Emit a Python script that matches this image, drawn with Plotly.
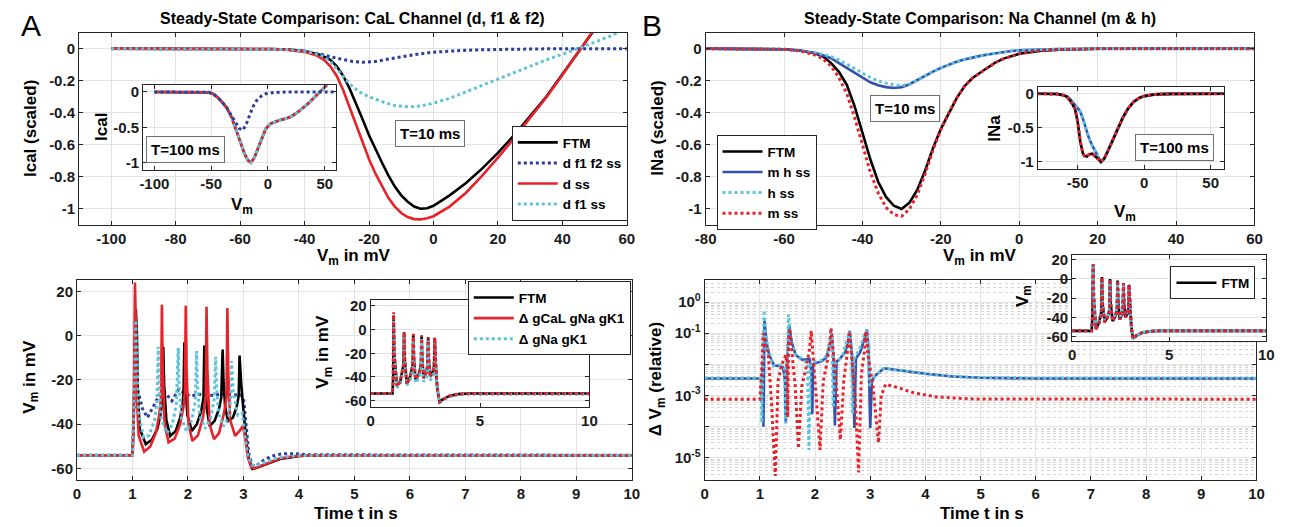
import plotly.graph_objects as go

# ---------------- data ----------------
# Panel A top: CaL channel, T = 10 ms
cal_v_ftm = [-100, -60, -50, -45, -40, -35, -32, -30, -28, -26, -24, -22, -20, -18, -16, -14, -12, -10, -8, -6, -4, -2, 0, 5, 10, 15, 20, 25, 30, 35, 40, 45, 50]
cal_i_ftm = [0, 0, -0.002, -0.006, -0.015, -0.04, -0.07, -0.11, -0.17, -0.25, -0.34, -0.44, -0.54, -0.63, -0.71, -0.79, -0.86, -0.915, -0.955, -0.985, -0.998, -0.995, -0.98, -0.915, -0.84, -0.75, -0.65, -0.54, -0.42, -0.30, -0.16, -0.02, 0.12]
cal_v_d = [-100, -60, -50, -45, -40, -36, -34, -32, -30, -28, -26, -24, -22, -20, -18, -16, -14, -12, -10, -8, -6, -4, -2, 0, 5, 10, 15, 20, 25, 30, 35, 40, 45, 50]
cal_i_d = [0, 0, -0.003, -0.008, -0.02, -0.045, -0.07, -0.11, -0.17, -0.26, -0.37, -0.48, -0.59, -0.69, -0.78, -0.86, -0.93, -0.985, -1.025, -1.05, -1.063, -1.065, -1.058, -1.045, -0.985, -0.9, -0.795, -0.68, -0.56, -0.43, -0.305, -0.165, -0.02, 0.125]
cal_v_dff = [-100, -50, -45, -40, -35, -30, -25, -22, -18, -14, -10, -5, 0, 10, 20, 30, 40, 60]
cal_i_dff = [0, -0.002, -0.006, -0.015, -0.035, -0.06, -0.08, -0.085, -0.08, -0.065, -0.05, -0.035, -0.022, -0.01, -0.005, -0.002, 0, 0]
cal_v_df = [-100, -50, -45, -40, -35, -32, -29, -26, -23, -20, -16, -12, -8, -4, 0, 5, 10, 15, 20, 25, 30, 35, 40, 45, 50, 55, 57]
cal_i_df = [0, -0.002, -0.006, -0.015, -0.04, -0.08, -0.15, -0.22, -0.27, -0.30, -0.33, -0.355, -0.363, -0.358, -0.34, -0.31, -0.27, -0.23, -0.19, -0.15, -0.11, -0.07, -0.035, 0.0, 0.04, 0.08, 0.1]

# Panel A inset: CaL channel, T = 100 ms
calin_v = [-100, -60, -52, -48, -44, -40, -36, -32, -28, -24, -21, -18, -15, -12, -8, -5, -2, 2, 6, 10, 15, 20, 25, 30, 35, 40, 45, 50, 52]
calin_i_d = [0, 0, -0.005, -0.03, -0.08, -0.15, -0.23, -0.36, -0.54, -0.74, -0.86, -0.96, -1.0, -0.93, -0.76, -0.62, -0.52, -0.45, -0.42, -0.40, -0.38, -0.35, -0.3, -0.24, -0.17, -0.09, -0.01, 0.08, 0.1]
calin_v2 = [-100, -60, -52, -48, -44, -40, -36, -32, -28, -25, -22, -19, -16, -13, -10, -6, -2, 5, 15, 30, 60]
calin_i_dff = [0, 0, -0.005, -0.03, -0.08, -0.15, -0.23, -0.34, -0.45, -0.52, -0.54, -0.45, -0.32, -0.2, -0.12, -0.06, -0.025, -0.008, -0.002, 0, 0]

# Panel B top: Na channel, T = 10 ms
na_v = [-80, -65, -60, -56, -52, -50, -48, -46, -44, -42, -40, -38, -36, -34, -32, -30, -28, -26, -24, -22, -20, -18, -16, -14, -12, -10, -8, -6, -4, -2, 0, 5, 10, 20, 40, 60]
na_i_ftm = [0, -0.001, -0.004, -0.012, -0.03, -0.05, -0.09, -0.145, -0.225, -0.36, -0.52, -0.69, -0.83, -0.925, -0.98, -1.0, -0.96, -0.88, -0.76, -0.62, -0.50, -0.40, -0.31, -0.235, -0.185, -0.15, -0.115, -0.085, -0.062, -0.045, -0.032, -0.014, -0.006, -0.001, 0, 0]
na_i_m = [0, -0.001, -0.004, -0.014, -0.04, -0.065, -0.11, -0.18, -0.28, -0.43, -0.6, -0.77, -0.9, -0.99, -1.035, -1.045, -1.0, -0.91, -0.78, -0.63, -0.505, -0.40, -0.31, -0.235, -0.185, -0.15, -0.115, -0.085, -0.062, -0.045, -0.032, -0.014, -0.006, -0.001, 0, 0]
na_i_mh = [0, -0.001, -0.004, -0.012, -0.028, -0.042, -0.06, -0.09, -0.12, -0.154, -0.185, -0.21, -0.228, -0.24, -0.245, -0.24, -0.222, -0.195, -0.168, -0.143, -0.12, -0.1, -0.082, -0.067, -0.055, -0.045, -0.036, -0.028, -0.021, -0.015, -0.011, -0.005, -0.003, -0.001, 0, 0]
na_i_h = [0, -0.001, -0.004, -0.011, -0.024, -0.035, -0.05, -0.07, -0.097, -0.125, -0.155, -0.18, -0.2, -0.215, -0.225, -0.23, -0.222, -0.195, -0.168, -0.143, -0.12, -0.1, -0.082, -0.067, -0.055, -0.045, -0.036, -0.028, -0.021, -0.015, -0.011, -0.005, -0.003, -0.001, 0, 0]

# Panel B inset: Na channel, T = 100 ms
nain_v = [-80, -65, -60, -58, -55, -52, -50, -48, -46, -45, -43, -41.5, -39, -37, -35, -32.5, -30, -27.5, -24, -20, -16, -12, -8, -4, 0, 8, 20, 60]
nain_i_ftm = [0, -0.005, -0.025, -0.045, -0.12, -0.22, -0.41, -0.7, -0.88, -0.91, -0.92, -0.89, -0.88, -0.91, -0.95, -1.0, -0.95, -0.85, -0.7, -0.52, -0.35, -0.216, -0.12, -0.065, -0.035, -0.01, -0.002, 0]
nain_i_mh = [0, -0.005, -0.025, -0.04, -0.09, -0.17, -0.21, -0.26, -0.37, -0.43, -0.56, -0.65, -0.76, -0.84, -0.91, -1.0, -0.95, -0.85, -0.7, -0.52, -0.35, -0.216, -0.12, -0.065, -0.035, -0.01, -0.002, 0]

# Panel A bottom: membrane potential traces
bl_t_ftm = [0, 1.0, 1.02, 1.06, 1.08, 1.095, 1.13, 1.24, 1.35, 1.45, 1.51, 1.54, 1.555, 1.57, 1.61, 1.68, 1.78, 1.86, 1.9, 1.92, 1.935, 1.95, 1.99, 2.07, 2.16, 2.24, 2.28, 2.295, 2.31, 2.34, 2.39, 2.48, 2.56, 2.6, 2.625, 2.64, 2.67, 2.72, 2.81, 2.88, 2.915, 2.93, 2.96, 3.0, 3.04, 3.09, 3.16, 3.25, 3.4, 3.66, 4.05, 4.5, 10]
bl_v_ftm = [-54, -54, -40, 12, 0, -25, -42, -49, -47, -42, -35, -28, -5, -22, -38, -45.3, -43, -37, -32, -26, -3, -20, -36, -43, -40, -34, -28, -4.5, -20, -33, -40.8, -38.5, -33, -28, -6.3, -20, -32, -38.5, -37, -32, -27, -9, -22, -33, -45, -55, -60.2, -59.5, -58, -55.7, -54.2, -54, -54]
bl_t_gcal = [0, 1.0, 1.02, 1.045, 1.06, 1.075, 1.11, 1.21, 1.32, 1.42, 1.48, 1.515, 1.53, 1.545, 1.58, 1.65, 1.76, 1.86, 1.92, 1.945, 1.96, 1.975, 2.01, 2.08, 2.18, 2.27, 2.32, 2.335, 2.35, 2.39, 2.47, 2.56, 2.65, 2.695, 2.71, 2.725, 2.76, 2.85, 2.93, 2.99, 3.03, 3.08, 3.14, 3.2, 3.3, 3.45, 3.65, 3.9, 4.3, 10]
bl_v_gcal = [-54, -54, -40, 24, 5, -25, -45, -52.4, -50, -44, -36, -28, 14, -15, -40, -48.2, -46.5, -40, -32, -25, 13.5, -15, -40, -47.5, -45, -37, -28, 13, -15, -40, -46.7, -44, -35, -28, 12.5, -15, -38, -45.3, -43, -40.8, -46, -55, -59.5, -60, -59, -57.5, -55.5, -54.5, -54, -54]
bl_t_gna = [0, 1.0, 1.02, 1.06, 1.08, 1.11, 1.2, 1.3, 1.4, 1.44, 1.465, 1.48, 1.52, 1.62, 1.72, 1.79, 1.825, 1.84, 1.88, 1.97, 2.07, 2.13, 2.155, 2.17, 2.21, 2.31, 2.41, 2.47, 2.5, 2.515, 2.55, 2.64, 2.74, 2.77, 2.785, 2.82, 2.9, 2.98, 3.03, 3.08, 3.15, 3.25, 3.4, 3.6, 3.9, 4.3, 10]
bl_v_gna = [-54, -54, -40, 7, -10, -35, -46, -45, -38, -30, -5, -22, -38, -44, -40, -31, -5.5, -22, -37, -43, -38, -30, -7, -22, -36, -42, -37, -29, -9.6, -23, -35, -41, -36, -28, -11.5, -26, -36, -35, -45, -54, -58.5, -58.5, -57, -55.3, -54.3, -54, -54]
bl_t_alt = [0, 1.0, 1.02, 1.06, 1.1, 1.18, 1.27, 1.38, 1.5, 1.58, 1.71, 1.83, 1.95, 2.04, 2.2, 2.4, 2.6, 2.8, 2.95, 3.0, 3.05, 3.1, 3.16, 3.22, 3.35, 3.5, 3.7, 3.9, 4.2, 10]
bl_v_alt = [-54, -54, -35, -23.5, -25, -33, -37, -32, -26, -25.5, -29.5, -24.3, -26, -27.3, -26.5, -27, -26.5, -26.5, -26.8, -28, -42, -54, -58.5, -59, -56.5, -54.5, -53.3, -53.3, -53.8, -54]

# Panel A bottom inset
blin_t = [0, 1.0, 1.03, 1.05, 1.08, 1.2, 1.35, 1.5, 1.53, 1.56, 1.65, 1.8, 1.92, 1.95, 1.98, 2.05, 2.2, 2.3, 2.33, 2.36, 2.42, 2.55, 2.6, 2.63, 2.66, 2.72, 2.85, 2.9, 2.93, 2.96, 3.0, 3.05, 3.15, 3.3, 3.6, 4.0, 4.5, 10]
blin_ftm = [-54, -54, -40, 12, -20, -47, -44, -30, -2.2, -25, -45.8, -40, -30, -3.7, -25, -42, -38, -30, -5, -25, -41, -36, -30, -6.5, -25, -40, -35, -30, -7, -25, -38, -50, -61, -59, -56, -54.5, -54, -54]
blin_gcal = [-54, -54, -40, 14.6, -20, -48, -44, -30, -2, -25, -46, -40, -30, -3.5, -25, -42, -38, -30, -5, -25, -41, -36, -30, -6.5, -25, -40, -35, -30, -7, -25, -38, -50, -61, -59, -56, -54.5, -54, -54]
blin_gna = [-54, -54, -40, 8, -22, -49, -46, -34, -6, -28, -47, -43, -34, -7, -28, -45, -41, -34, -8, -28, -44, -40, -34, -9, -28, -43, -39, -34, -10, -28, -40, -51, -62, -59.5, -56.5, -55, -54.5, -54.5]

# Panel B bottom: relative difference of V_m (log scale)
br_t_mh = [0, 1.0, 1.04, 1.055, 1.065, 1.075, 1.085, 1.12, 1.17, 1.26, 1.35, 1.42, 1.455, 1.47, 1.49, 1.53, 1.58, 1.65, 1.77, 1.9, 1.935, 1.95, 1.965, 2.0, 2.1, 2.2, 2.28, 2.3, 2.33, 2.36, 2.39, 2.45, 2.55, 2.61, 2.63, 2.67, 2.715, 2.74, 2.82, 2.9, 2.94, 2.97, 3.0, 3.03, 3.1, 3.25, 3.5, 4.0, 4.5, 5.0, 6.0, 10]
br_d_mh = [3.5e-3, 3.5e-3, 3.5e-3, 1.2e-2, 1e-4, 5e-3, 0.25, 0.05, 0.02, 9e-3, 9e-3, 8e-3, 3e-3, 1.3e-4, 8e-3, 0.19, 0.05, 0.02, 1.4e-2, 1.5e-2, 6e-3, 2.5e-4, 0.01, 1.1e-2, 1.2e-2, 1.6e-2, 0.05, 0.1, 0.02, 1.1e-4, 0.012, 0.015, 0.025, 0.07, 0.12, 0.02, 9e-5, 0.015, 0.025, 0.07, 0.13, 0.03, 9e-5, 3e-3, 4.5e-3, 7.5e-3, 6.5e-3, 5e-3, 4.1e-3, 3.7e-3, 3.5e-3, 3.5e-3]
br_t_h = [0, 1.0, 1.025, 1.035, 1.05, 1.075, 1.1, 1.15, 1.25, 1.38, 1.45, 1.47, 1.49, 1.52, 1.56, 1.65, 1.8, 1.86, 1.89, 1.92, 1.98, 2.1, 2.22, 2.29, 2.31, 2.33, 2.36, 2.5, 2.6, 2.63, 2.66, 2.68, 2.71, 2.8, 2.9, 2.94, 2.97, 2.99, 3.03, 3.1, 3.25, 3.5, 4.0, 4.5, 5.0, 10]
br_d_h = [3.6e-3, 3.6e-3, 3.6e-3, 1.3e-4, 5e-3, 0.55, 0.1, 0.03, 9e-3, 9.5e-3, 7e-3, 1.3e-4, 6e-3, 0.4, 0.06, 0.02, 1.4e-2, 1e-2, 1.8e-5, 1e-2, 1.2e-2, 1.3e-2, 2e-2, 0.1, 0.04, 4e-4, 0.01, 0.02, 0.08, 0.11, 0.03, 2.5e-4, 1.5e-2, 0.03, 0.09, 0.12, 0.03, 2e-3, 3e-3, 4.5e-3, 7.5e-3, 6.5e-3, 5e-3, 4.1e-3, 3.7e-3, 3.6e-3]
br_t_m = [0, 1.0, 1.03, 1.06, 1.1, 1.15, 1.21, 1.28, 1.33, 1.4, 1.47, 1.49, 1.505, 1.52, 1.54, 1.58, 1.64, 1.7, 1.76, 1.85, 1.9, 1.93, 1.96, 2.0, 2.09, 2.15, 2.22, 2.27, 2.29, 2.33, 2.38, 2.46, 2.52, 2.58, 2.62, 2.66, 2.72, 2.79, 2.84, 2.9, 2.92, 2.96, 3.05, 3.15, 3.2, 3.28, 3.5, 3.8, 4.2, 4.8, 10]
br_d_m = [7.6e-4, 7.6e-4, 5e-3, 0.1, 0.04, 0.025, 6e-4, 2.6e-6, 3e-3, 0.01, 0.02, 0.01, 2e-4, 0.05, 0.14, 0.03, 2e-3, 2e-5, 2e-3, 0.01, 0.03, 0.12, 0.03, 3e-3, 1.8e-5, 3e-3, 0.012, 0.05, 0.15, 0.03, 3e-3, 3.8e-5, 3e-3, 0.02, 0.115, 0.02, 1.5e-3, 3.4e-6, 5e-3, 0.03, 0.115, 0.02, 2e-3, 3e-5, 1e-3, 2.3e-3, 1.8e-3, 1.2e-3, 9e-4, 7.8e-4, 7.6e-4]

# Panel B bottom inset
brin_t = [0, 1.0, 1.04, 1.08, 1.11, 1.22, 1.38, 1.5, 1.53, 1.56, 1.67, 1.82, 1.92, 1.95, 1.98, 2.08, 2.22, 2.31, 2.34, 2.37, 2.45, 2.57, 2.61, 2.64, 2.67, 2.74, 2.86, 2.9, 2.93, 2.96, 3.0, 3.05, 3.12, 3.3, 3.6, 4.0, 4.5, 10]
brin_ftm = [-54, -54, -40, 14.7, -20, -52, -46, -34, 1.8, -25, -45, -40, -33, -0.3, -25, -44, -39, -32, -1.8, -25, -42, -37, -31, -4.5, -25, -40, -36, -30, -6.3, -25, -35, -50, -62, -59, -56, -54.5, -54, -54]
brin_h = [-54, -54, -40, 13, -22, -50, -44, -32, 0, -26, -43, -38, -31, -2, -26, -42, -37, -30, -3, -26, -40, -35, -29, -6, -26, -38, -34, -29, -8, -26, -34, -50, -61, -58.5, -55.5, -54.3, -54, -54]

# tick labels
cal_xticks = [-100, -80, -60, -40, -20, 0, 20, 40, 60]
na_xticks = [-80, -60, -40, -20, 0, 20, 40, 60]
i_yticks = [0, -0.2, -0.4, -0.6, -0.8, -1]
in_xticks_cal = [-100, -50, 0, 50]
in_xticks_na = [-50, 0, 50]
in_yticks = [0, -0.5, -1]
t_ticks = [0, 1, 2, 3, 4, 5, 6, 7, 8, 9, 10]
vm_ticks = [20, 0, -20, -40, -60]
in_t_ticks = [0, 5, 10]
log_ticks = [1e-6, 1e-5, 1e-4, 1e-3, 1e-2, 1e-1, 1]
log_labels = ["", "10<sup>-5</sup>", "", "10<sup>-3</sup>", "", "10<sup>-1</sup>", "10<sup>0</sup>"]

# ---------------- styling ----------------
FONT = "Liberation Sans, Arial, Helvetica, sans-serif"
BLACK = "#000000"
RED = "#e8222a"
NAVY = "#2b3c9c"
BLUE = "#3350ad"
CYAN = "#5cc3db"
W = 1296.0
H = 527.0
TICK = 15


def px(x):
    return x / W


def py(y):
    return 1 - y / H


def lab(v):
    return "%g" % v


def axis(dom, rng, tv, tt=None, anchor=None, log=False, grid=True):
    d = dict(domain=dom, range=rng, tickmode="array", tickvals=tv,
             ticktext=tt if tt is not None else [lab(v) for v in tv],
             showline=True, linecolor="#262626", linewidth=1, mirror="ticks",
             ticks="inside", ticklen=4, tickwidth=1, tickcolor="#262626",
             showgrid=grid, gridcolor="#e3e3e3", gridwidth=1, zeroline=False,
             tickfont=dict(family=FONT, size=TICK, color="#1a1a1a", weight="bold"),
             anchor=anchor, layer="above traces", fixedrange=True)
    if log:
        d["type"] = "log"
    return d


fig = go.Figure()


def line(x, y, xa, ya, color, dot=False, width=2.6, name=None, legend=None):
    fig.add_trace(go.Scatter(
        x=x, y=y, xaxis=xa, yaxis=ya, mode="lines", name=name,
        showlegend=legend is not None, legend=legend if legend else "legend",
        line=dict(color=color, width=(3 if dot else width), dash=("dot" if dot else "solid")),
        hoverinfo="skip"))


# A top
line(cal_v_ftm, cal_i_ftm, "x", "y", BLACK, name="FTM", legend="legend")
line(cal_v_dff, cal_i_dff, "x", "y", NAVY, dot=True, name="d f1 f2 ss", legend="legend")
line(cal_v_d, cal_i_d, "x", "y", RED, name="d ss", legend="legend")
line(cal_v_df, cal_i_df, "x", "y", CYAN, dot=True, name="d f1 ss", legend="legend")
# B top
line(na_v, na_i_ftm, "x2", "y2", BLACK, name="FTM", legend="legend2")
line(na_v, na_i_mh, "x2", "y2", BLUE, name="m h ss", legend="legend2")
line(na_v, na_i_h, "x2", "y2", CYAN, dot=True, name="h ss", legend="legend2")
line(na_v, na_i_m, "x2", "y2", RED, dot=True, name="m ss", legend="legend2")
# A bottom
line(bl_t_alt, bl_v_alt, "x3", "y3", NAVY, dot=True)
line(bl_t_ftm, bl_v_ftm, "x3", "y3", BLACK, name="FTM", legend="legend3")
line(bl_t_gcal, bl_v_gcal, "x3", "y3", RED, name="\u0394 gCaL gNa gK1", legend="legend3")
line(bl_t_gna, bl_v_gna, "x3", "y3", CYAN, dot=True, name="\u0394 gNa gK1", legend="legend3")
# B bottom
line(br_t_mh, br_d_mh, "x4", "y4", BLUE)
line(br_t_h, br_d_h, "x4", "y4", CYAN, dot=True)
line(br_t_m, br_d_m, "x4", "y4", RED, dot=True)
# A top inset
line(calin_v, calin_i_d, "x5", "y5", BLACK)
line(calin_v, calin_i_d, "x5", "y5", RED)
line(calin_v, calin_i_d, "x5", "y5", CYAN, dot=True)
line(calin_v2, calin_i_dff, "x5", "y5", NAVY, dot=True)
# B top inset
line(nain_v, nain_i_mh, "x6", "y6", BLUE)
line(nain_v, nain_i_mh, "x6", "y6", CYAN, dot=True)
line(nain_v, nain_i_ftm, "x6", "y6", BLACK)
line(nain_v, nain_i_ftm, "x6", "y6", RED, dot=True)
# A bottom inset
line(blin_t, blin_ftm, "x7", "y7", BLACK)
line(blin_t, blin_gna, "x7", "y7", CYAN, dot=True)
line(blin_t, blin_gcal, "x7", "y7", RED, dot=True)
# B bottom inset
line(brin_t, brin_ftm, "x8", "y8", BLACK, name="FTM", legend="legend4")
line(brin_t, brin_h, "x8", "y8", CYAN, dot=True)
line(brin_t, brin_ftm, "x8", "y8", BLUE, dot=True)
line(brin_t, brin_ftm, "x8", "y8", RED, dot=True)

legfont = dict(family=FONT, size=13.5, color="#000000", weight="bold")


def leg(x, y, xa, ya):
    return dict(x=x, y=y, xanchor=xa, yanchor=ya, bgcolor="white", bordercolor="#262626",
                borderwidth=1, font=legfont, tracegroupgap=0, itemclick=False,
                itemdoubleclick=False, itemwidth=40)


vm_labels = [lab(v) for v in vm_ticks]

fig.update_layout(
    width=1296, height=527, margin=dict(l=0, r=0, t=0, b=0),
    paper_bgcolor="white", plot_bgcolor="white", showlegend=True,
    font=dict(family=FONT, color="#000000"),
    xaxis=axis([px(69), px(625)], [-110, 60], cal_xticks, anchor="y"),
    yaxis=axis([py(224), py(29)], [-1.1, 0.1], i_yticks, anchor="x"),
    xaxis2=axis([px(705), px(1262)], [-80, 60], na_xticks, anchor="y2"),
    yaxis2=axis([py(224), py(29)], [-1.1, 0.1], i_yticks, anchor="x2"),
    xaxis3=axis([px(67), px(630)], [0, 10], t_ticks, anchor="y3"),
    yaxis3=axis([py(482), py(280)], [-65, 25], vm_ticks, vm_labels, anchor="x3"),
    xaxis4=axis([px(704), px(1264)], [0, 10], t_ticks, anchor="y4"),
    yaxis4=dict(axis([py(482), py(280)], [-5.7, 0.7], log_ticks, log_labels, anchor="x4", log=True),
                minor=dict(tickvals=[m * 10.0 ** k for k in range(-6, 1) for m in range(2, 10)],
                           showgrid=True, gridcolor="#d6d6d6", griddash="dot", ticks="")),
    xaxis5=axis([px(134), px(330)], [-110, 60], in_xticks_cal, anchor="y5"),
    yaxis5=axis([py(168), py(82)], [-1.1, 0.1], in_yticks, anchor="x5"),
    xaxis6=axis([px(1042), px(1231)], [-80, 60], in_xticks_na, anchor="y6"),
    yaxis6=axis([py(167), py(84)], [-1.1, 0.1], in_yticks, anchor="x6"),
    xaxis7=axis([px(365), px(587)], [0, 10], in_t_ticks, anchor="y7"),
    yaxis7=axis([py(408), py(300)], [-65, 25], vm_ticks, vm_labels, anchor="x7"),
    xaxis8=axis([px(1077), px(1274)], [0, 10], in_t_ticks, anchor="y8"),
    yaxis8=axis([py(342), py(254)], [-65, 25], vm_ticks, vm_labels, anchor="x8"),
    legend=leg(px(626), py(220), "right", "bottom"),
    legend2=leg(px(716), py(133), "left", "top"),
    legend3=leg(px(629), py(281), "right", "top"),
    legend4=leg(px(1263), py(266), "right", "top"),
)

ann = []


def text(t, x, y, size=17, angle=0, bold=True, box=False, xanchor="center"):
    a = dict(text=t, x=px(x), y=py(y), xref="paper", yref="paper", showarrow=False,
             xanchor=xanchor, yanchor="middle", textangle=angle,
             font=dict(family=FONT, size=size, color="#000000", weight=("bold" if bold else "normal")))
    if box:
        a.update(bgcolor="white", bordercolor="#707070", borderwidth=1, borderpad=4)
    ann.append(a)


text("A", 20, 22, size=30, bold=False)
text("B", 651, 22, size=30, bold=False)
text("Steady-State Comparison: CaL Channel (d, f1 &amp; f2)", 347, 15, size=16)
text("Steady-State Comparison: Na Channel (m &amp; h)", 983, 15, size=16)
text("Ical (scaled)", 20, 126, angle=-90)
text("INa (scaled)", 656, 126, angle=-90)
text("V<sub>m</sub> in mV", 348, 256)
text("V<sub>m</sub> in mV", 983, 256)
text("Ical", 92, 125, angle=-90)
text("V<sub>m</sub>", 234, 205)
text("INa", 998, 126, angle=-90)
text("V<sub>m</sub>", 1131, 212)
text("V<sub>m</sub> in mV", 20, 378, angle=-90)
text("\u0394 V<sub>m</sub> (relative)", 656, 380, angle=-90)
text("Time t in s", 350, 516)
text("Time t in s", 985, 516)
text("V<sub>m</sub> in mV", 318, 352, angle=-90)
text("V<sub>m</sub>", 1028, 296, angle=-90)
text("T=10 ms", 425, 131, size=15, box=True)
text("T=100 ms", 177, 147, size=15, box=True)
text("T=10 ms", 907, 106, size=15, box=True)
text("T=100 ms", 1181, 145, size=15, box=True)
fig.update_layout(annotations=ann)

fig.write_html("out.html", config={"displayModeBar": False, "staticPlot": True},
               post_script="document.body.style.margin='0px';document.body.style.overflow='hidden';")
